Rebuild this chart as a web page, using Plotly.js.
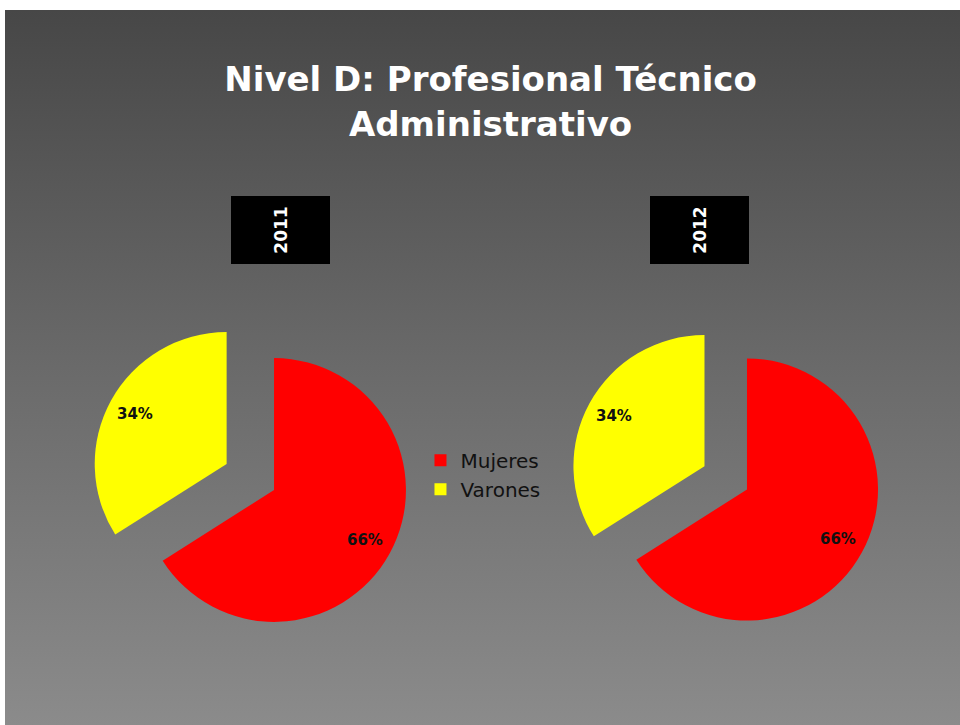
<!DOCTYPE html>
<html><head><meta charset="utf-8">
<script src="https://cdn.plot.ly/plotly-3.0.1.min.js"></script>
<style>
html,body{margin:0;padding:0;background:#fff;}
#bg{position:absolute;left:5px;top:10px;width:955px;height:715px;background:linear-gradient(to bottom,#474747 0%,#6a6a6a 50%,#8b8b8b 100%);}
#chart{position:absolute;left:0;top:0;width:960px;height:725px;}
</style></head><body><div id="bg"></div><div id="chart"></div>
<script>
const categories = ['Mujeres', 'Varones'];
const years = ['2011', '2012'];
const values2011 = [66, 34];
const values2012 = [66, 34];
const colors = ['#ff0000', '#ffff00'];

const W = 960, H = 725;
const pies = [
  {values: values2011, domain: {x: [0.0917, 0.4792], y: [0.0676, 0.5807]}, pull: 0.41},
  {values: values2012, domain: {x: [0.5911, 0.9651], y: [0.0738, 0.5759]}, pull: 0.37}
];

function pieTrace(p) {
  return {
    type: 'pie', labels: categories, values: p.values,
    sort: false, direction: 'clockwise', rotation: 0,
    pull: [0, p.pull],
    marker: {colors: colors, line: {width: 0}},
    textinfo: 'none',
    hoverinfo: 'label+percent',
    domain: p.domain
  };
}

// percentage labels placed near the rim of each slice (computed from the values)
function sliceLabels(p) {
  const dw = W * (p.domain.x[1] - p.domain.x[0]);
  const dh = H * (p.domain.y[1] - p.domain.y[0]);
  const pulls = [0, p.pull];
  const r = Math.min(dw, dh) / (2 * (1 + Math.max(...pulls)));
  const cx = W * (p.domain.x[0] + p.domain.x[1]) / 2;
  const cy = H * (1 - (p.domain.y[0] + p.domain.y[1]) / 2);
  const total = p.values.reduce((a, b) => a + b, 0);
  let cum = 0;
  return p.values.map((v, i) => {
    const mid = 2 * Math.PI * (cum + v / 2) / total;
    cum += v;
    const d = r * (0.79 + pulls[i]);
    const px = cx + d * Math.sin(mid);
    const py = cy - d * Math.cos(mid);
    return {
      text: Math.round(100 * v / total) + '%', xref: 'paper', yref: 'paper',
      x: px / W, y: 1 - py / H, xanchor: 'center', yanchor: 'middle', showarrow: false,
      font: {family: 'DejaVu Sans', size: 15, color: '#111', weight: 'bold'}
    };
  });
}

function yearBox(text, x) {
  return {
    text: text, textangle: -90, xref: 'paper', yref: 'paper',
    x: x, y: 1 - 230 / H, xanchor: 'center', yanchor: 'middle',
    showarrow: false, bgcolor: '#000', borderwidth: 0, borderpad: 0,
    width: 68, height: 99,
    font: {family: 'DejaVu Sans', size: 17, color: '#fff', weight: 'bold'}
  };
}

const layout = {
  width: W, height: H,
  margin: {l: 0, r: 0, t: 0, b: 0},
  paper_bgcolor: 'rgba(0,0,0,0)', plot_bgcolor: 'rgba(0,0,0,0)',
  title: {
    text: 'Nivel D: Profesional Técnico<br>Administrativo',
    font: {family: 'DejaVu Sans', size: 34, color: '#ffffff', weight: 'bold'},
    x: 0.511, xanchor: 'center', xref: 'container',
    y: 0.874, yanchor: 'top', yref: 'container'
  },
  showlegend: true,
  legend: {
    x: 0.438, y: 0.392, xanchor: 'left', yanchor: 'top',
    bgcolor: 'rgba(0,0,0,0)', traceorder: 'normal',
    font: {family: 'DejaVu Sans', size: 20, color: '#111'}
  },
  annotations: [yearBox(years[0], 281 / W), yearBox(years[1], 700 / W)]
    .concat(sliceLabels(pies[0]), sliceLabels(pies[1]))
};

Plotly.newPlot('chart', pies.map(pieTrace), layout, {displayModeBar: false});
</script></body></html>
